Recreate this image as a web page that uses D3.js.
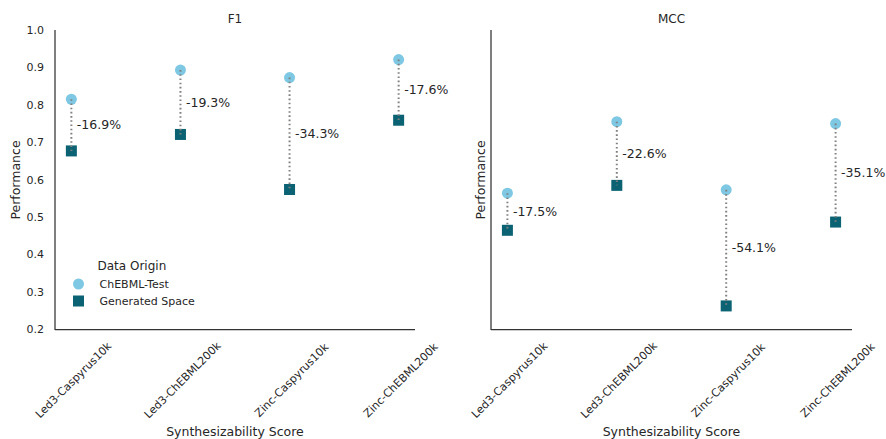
<!DOCTYPE html>
<html><head><meta charset="utf-8">
<script src="https://cdn.jsdelivr.net/npm/d3@7"></script>
<style>
body{margin:0;background:#fff;}
text{font-family:"DejaVu Sans",sans-serif;fill:#262626;}
</style></head>
<body><svg id="c" width="886" height="439"></svg>
<script>
const categories = ["Led3-Caspyrus10k","Led3-ChEBML200k","Zinc-Caspyrus10k","Zinc-ChEBML200k"];
const metrics = ["F1","MCC"];
const f1Test = [0.815, 0.893, 0.873, 0.921];
const f1Gen = [0.677, 0.721, 0.574, 0.759];
const f1Labels = ["-16.9%","-19.3%","-34.3%","-17.6%"];
const mccTest = [0.564, 0.755, 0.573, 0.750];
const mccGen = [0.465, 0.585, 0.263, 0.487];
const mccLabels = ["-17.5%","-22.6%","-54.1%","-35.1%"];
const yTicks = [0.2,0.3,0.4,0.5,0.6,0.7,0.8,0.9,1.0];
const legendTitle = "Data Origin";
const seriesNames = ["ChEBML-Test","Generated Space"];

const testColor = "#7ec8e3", genColor = "#0a6272";
const svg = d3.select("#c");

const panels = [
  {name:metrics[0], test:f1Test, gen:f1Gen, labels:f1Labels, x0:55, x1:415, showTicks:true, ylabX:16},
  {name:metrics[1], test:mccTest, gen:mccGen, labels:mccLabels, x0:491, x1:852, showTicks:false, ylabX:481}
];
const y = d3.scaleLinear().domain([0.2,1.0]).range([329.5,30]);

panels.forEach(p=>{
  const g = svg.append("g");
  const x = d3.scaleLinear().domain([-0.15,3.15]).range([p.x0,p.x1]);
  // spines
  g.append("line").attr("x1",p.x0).attr("x2",p.x0).attr("y1",y(1.0)).attr("y2",y(0.2)+0.6)
    .attr("stroke","#333").attr("stroke-width",1.25);
  g.append("line").attr("x1",p.x0).attr("x2",p.x1).attr("y1",y(0.2)).attr("y2",y(0.2))
    .attr("stroke","#333").attr("stroke-width",1.25);
  if(p.showTicks){
    g.selectAll(".yt").data(yTicks).join("text")
      .attr("x",p.x0-11).attr("y",d=>y(d)).attr("dy","0.35em")
      .attr("text-anchor","end").attr("font-size",11).text(d=>d.toFixed(1));
  }
  // x tick labels
  categories.forEach((c,i)=>{
    const cx = x(i), cy = 380;
    g.append("text").attr("transform",`translate(${cx+2},${cy}) rotate(-45)`)
      .attr("text-anchor","middle").attr("dy","0.35em").attr("font-size",11).text(c);
  });
  // titles
  g.append("text").attr("x",(p.x0+p.x1)/2).attr("y",19).attr("dy","0.35em")
    .attr("text-anchor","middle").attr("font-size",12).text(p.name);
  g.append("text").attr("x",(p.x0+p.x1)/2).attr("y",432).attr("dy","0.35em")
    .attr("text-anchor","middle").attr("font-size",12.5).text("Synthesizability Score");
  g.append("text").attr("transform",`translate(${p.ylabX},180) rotate(-90)`).attr("dy","0.35em")
    .attr("text-anchor","middle").attr("font-size",12.5).text("Performance");
  // markers
  g.selectAll(".ct").data(p.test).join("circle")
    .attr("cx",(d,i)=>x(i)).attr("cy",d=>y(d)).attr("r",5.5).attr("fill",testColor);
  g.selectAll(".sq").data(p.gen).join("rect")
    .attr("x",(d,i)=>x(i)-5.5).attr("y",d=>y(d)-5.5).attr("width",11).attr("height",11).attr("fill",genColor);
  // dotted connectors
  p.test.forEach((v,i)=>{
    g.append("line").attr("x1",x(i)).attr("x2",x(i)).attr("y1",y(v)).attr("y2",y(p.gen[i]))
      .attr("stroke","#808080").attr("stroke-width",2).attr("stroke-dasharray","1.6,2.6");
    g.append("text").attr("x",x(i)+5.5).attr("y",(y(v)+y(p.gen[i]))/2).attr("dy","0.35em")
      .attr("font-size",12.5).text(p.labels[i]);
  });
});

// legend
const lg = svg.append("g");
lg.append("text").attr("x",97.5).attr("y",266).attr("dy","0.35em").attr("font-size",12).text(legendTitle);
lg.append("circle").attr("cx",78.5).attr("cy",284).attr("r",5.5).attr("fill",testColor);
lg.append("rect").attr("x",73).attr("y",295.5).attr("width",11).attr("height",11).attr("fill",genColor);
lg.append("text").attr("x",99.5).attr("y",284).attr("dy","0.35em").attr("font-size",11).text(seriesNames[0]);
lg.append("text").attr("x",99.5).attr("y",301).attr("dy","0.35em").attr("font-size",11).text(seriesNames[1]);
</script></body></html>
